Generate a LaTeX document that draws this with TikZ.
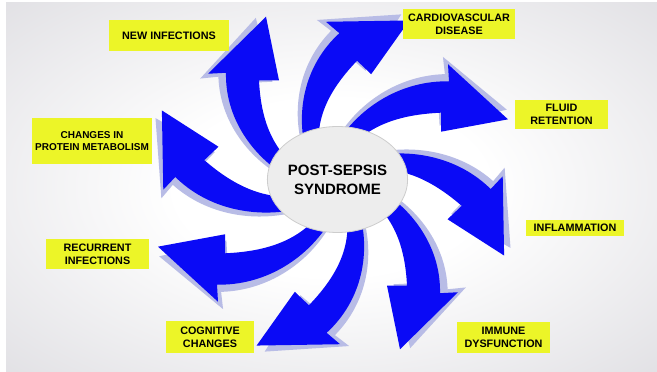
\documentclass[tikz,border=0pt]{standalone}
\usepackage{fontspec}
\setmainfont{Liberation Sans}
\usetikzlibrary{shapes.geometric}
\definecolor{arrowblue}{RGB}{10,10,246}
\definecolor{arrowshadow}{RGB}{184,188,230}
\definecolor{labelyellow}{RGB}{236,245,40}
\definecolor{bgout}{RGB}{208,207,213}
\definecolor{ellfill}{RGB}{237,237,237}
\definecolor{ellline}{RGB}{205,205,205}
\pgfdeclareradialshading{bgshade}{\pgfpoint{0bp}{0bp}}{color(0bp)=(white); color(12bp)=(white); color(50bp)=(bgout); color(75bp)=(bgout)}
\tikzset{
  lbl/.style={fill=labelyellow, inner sep=0pt, align=center, text=black,
    font=\fontsize{10.8}{13}\selectfont\bfseries},
  core/.style={ellipse, fill=ellfill, draw=ellline, line width=0.8pt, inner sep=0pt,
    minimum width=139, minimum height=106, align=center,
    font=\fontsize{15}{19}\selectfont\bfseries},
  pinshadow/.style={fill=arrowshadow},
  pinarrow/.style={fill=arrowblue},
}
\begin{document}
\begin{tikzpicture}[x=1pt,y=1pt]
\useasboundingbox (0,0) rectangle (657,372);
\fill[white] (0,0) rectangle (657,372);
\shade[shading=bgshade] (6,0) rectangle (657,369);
% shadows
\foreach \r in {90,45,0,-45,-90,-135,-180,-225}{
  \fill[pinshadow, shift={(333,189)}, yscale=0.95, rotate=\r+3, scale=1.015]
    (4,42) .. controls (28,82) and (70,108) .. (116,107) -- (115,125) -- (175,67)
    -- (108,54) -- (108,74) .. controls (65,72) and (32,60) .. (10,28) -- cycle;
}
% arrows
\foreach \r in {90,45,0,-45,-90,-135,-180,-225}{
  \fill[pinarrow, shift={(333,189)}, yscale=0.95, rotate=\r]
    (4,42) .. controls (28,82) and (70,108) .. (116,107) -- (115,125) -- (175,67)
    -- (108,54) -- (108,74) .. controls (65,72) and (32,60) .. (10,28) -- cycle;
}
\node[core] (pss) at (337.5,192.5) {POST-SEPSIS\\SYNDROME};
% labels
\node[lbl, minimum width=120, minimum height=31] (newinf) at (169,336.5) {NEW INFECTIONS};
\node[lbl, minimum width=120, minimum height=46, font=\fontsize{10}{12}\selectfont\bfseries] (protein) at (92,231) {CHANGES IN\\PROTEIN METABOLISM};
\node[lbl, minimum width=112, minimum height=30] (cardio) at (459,348) {CARDIOVASCULAR\\DISEASE};
\node[lbl, minimum width=93, minimum height=29] (fluid) at (561.5,257.5) {FLUID\\RETENTION};
\node[lbl, minimum width=98, minimum height=16] (inflam) at (575,144) {INFLAMMATION};
\node[lbl, minimum width=93, minimum height=31] (immune) at (503.5,34.5) {IMMUNE\\DYSFUNCTION};
\node[lbl, minimum width=103, minimum height=30] (recur) at (97.5,118) {RECURRENT\\INFECTIONS};
\node[lbl, minimum width=88, minimum height=32] (cogn) at (210,35) {COGNITIVE\\CHANGES};
\end{tikzpicture}
\end{document}
